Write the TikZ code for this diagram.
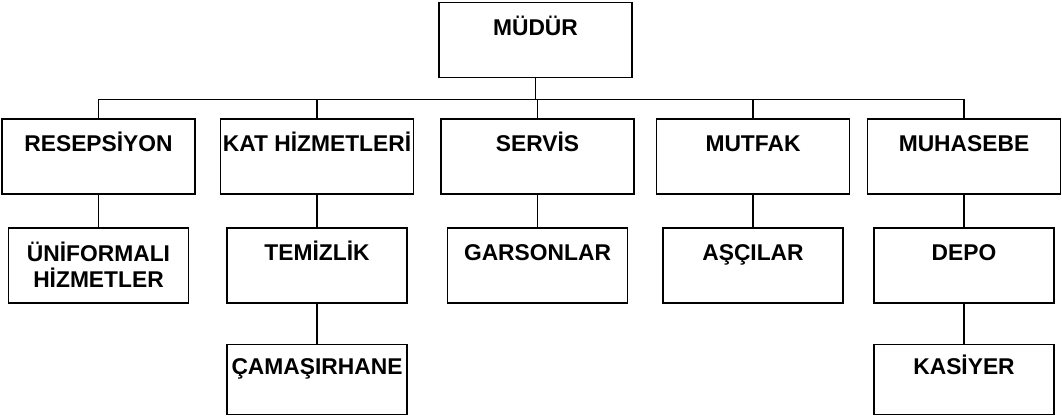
\documentclass[tikz,border=0pt]{standalone}
\usepackage{fontspec}
\setmainfont{Liberation Sans}
\usetikzlibrary{positioning}

\begin{document}
\begin{tikzpicture}[x=1pt, y=-1pt, line width=1.7pt, font=\fontsize{22.8}{26}\selectfont\bfseries,
    box/.style = {draw, minimum width=193pt, minimum height=75pt, inner sep=0pt, text height=20pt, text depth=30pt},
    sub/.style = {box, minimum width=180pt},
    low/.style = {sub, minimum height=70pt}]
    \useasboundingbox (0,0) rectangle (1062,416);
    \node[box](0) at (535.5,40){MÜDÜR};
    \node[box](1) at (98.5,156.5){RESEPSİYON};
    \node[box](2) at (317,156.5){KAT HİZMETLERİ};
    \node[box](3) at (537.5,156.5){SERVİS};
    \node[box](4) at (753,156.5){MUTFAK};
    \node[box](5) at (964,156.5){MUHASEBE};
    \node[sub, align=center, text height=, text depth=](6)[below=32pt of 1]{ÜNİFORMALI\\HİZMETLER};
    \node[sub](7)[below=32pt of 2]{TEMİZLİK};
    \node[sub](8)[below=32pt of 3]{GARSONLAR};
    \node[sub](9)[below=32pt of 4]{AŞÇILAR};
    \node[sub](10)[below=32pt of 5]{DEPO};
    \node[low](11)[below=40pt of 7]{ÇAMAŞIRHANE};
    \node[low](12)[below=40pt of 10]{KASİYER};
    \foreach \n in {1,...,5}
        \draw (0.south) -- ++(0,21) -| (\n.north);
    \draw (1) -- (6);
    \draw (2) -- (7) -- (11);
    \draw (3) -- (8);
    \draw (4) -- (9);
    \draw (5) -- (10) -- (12);
\end{tikzpicture}
\end{document}
